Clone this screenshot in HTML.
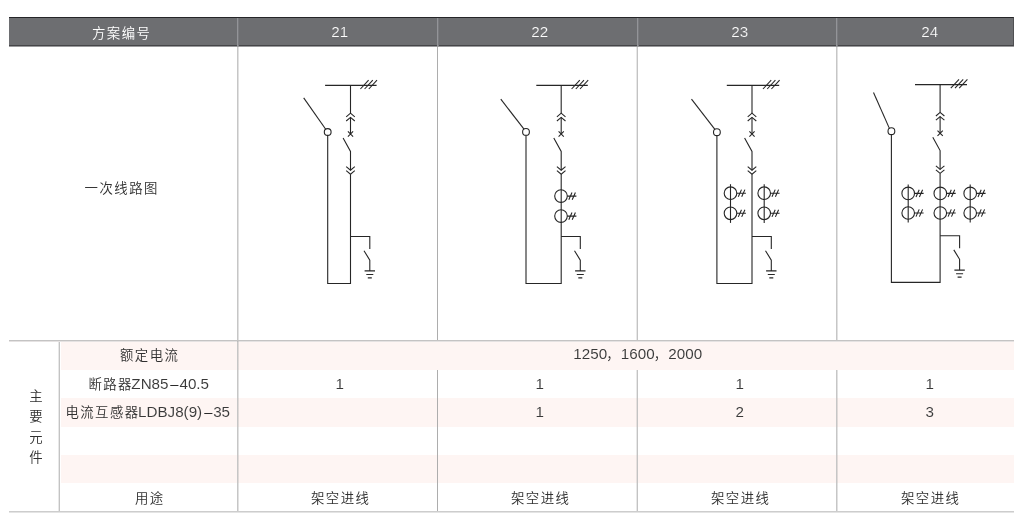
<!DOCTYPE html>
<html lang="zh-CN">
<head>
<meta charset="utf-8">
<title>一次线路图 方案 21-24</title>
<style>
html,body{margin:0;padding:0;background:#fff;}
body{width:1025px;height:531px;position:relative;overflow:hidden;
  font-family:"Liberation Sans","Noto Sans CJK SC",sans-serif;font-weight:350;color:#303030;font-size:13.4px;}
.abs{position:absolute;}
.hdr{left:9px;top:17px;width:1005px;height:29px;background:#6d6e71;box-sizing:border-box;border-top:1px solid #252528;border-bottom:1px solid #454548;border-right:1px solid #505053;}
.hsep{top:18px;height:28px;width:2px;background:linear-gradient(to right,#939498 50%,#797a7e 50%);}
.vl{width:2px;}
.va{background:linear-gradient(to right,#c6c6c6 50%,rgba(140,140,140,.26) 50%);}
.vb{background:linear-gradient(to right,rgba(140,140,140,.2) 50%,#c3c3c3 50%);}
.vc{width:1px;background:#adadad;}
.hl{height:2px;background:linear-gradient(to bottom,#c4c3c3 50%,rgba(170,160,160,.3) 50%);}
.hl.b{background:linear-gradient(to bottom,#cdcdcd 50%,#e4e4e4 50%);}
.pink{left:61px;width:953px;background:#fef5f3;}
.t{position:absolute;white-space:nowrap;text-align:center;line-height:20px;height:20px;will-change:transform;}
.t.v{white-space:normal;word-break:break-all;height:auto;line-height:20.4px;letter-spacing:0;}
.t .i{display:inline-block;letter-spacing:1.45px;margin-right:-1.45px;}
.t .l{font-size:15.2px;letter-spacing:0;font-weight:400;-webkit-text-stroke:0.06px #fff;color:#383838;}
.t .l.a{margin-left:-1.6px;}
.t .d{display:inline-block;font-size:15.2px;letter-spacing:0;font-weight:400;margin:0 1px 0 1.5px;transform:scaleX(0.97);color:#2a2a2a;}
.p .l{-webkit-text-stroke-color:#fef5f3;}
.h .l{-webkit-text-stroke:0.22px #6d6e71;}
.t .c{letter-spacing:0;margin:0 1.1px 0 -0.8px;}
.h,.h .l{color:#fff;}
svg{position:absolute;left:0;top:0;}
svg path,svg circle{fill:none;stroke:#262626;stroke-width:1.1;}
</style>
</head>
<body>
<div class="abs hdr"></div>
<div class="abs" style="left:9px;top:46px;width:1005px;height:1px;background:#9a9a9c"></div>
<div class="abs hsep" style="left:237px"></div>
<div class="abs hsep" style="left:437px"></div>
<div class="abs hsep" style="left:637px"></div>
<div class="abs hsep" style="left:836px"></div>

<div class="abs pink" style="top:342px;height:28px"></div>
<div class="abs pink" style="top:398px;height:29px"></div>
<div class="abs pink" style="top:455px;height:28px"></div>

<div class="abs vl va" style="left:237px;top:47px;height:464px"></div>
<div class="abs vl vc" style="left:437px;top:47px;height:293px"></div>
<div class="abs vl vb" style="left:636px;top:47px;height:293px"></div>
<div class="abs vl va" style="left:836px;top:47px;height:293px"></div>
<div class="abs vl vc" style="left:437px;top:370px;height:141px"></div>
<div class="abs vl vb" style="left:636px;top:370px;height:141px"></div>
<div class="abs vl va" style="left:836px;top:370px;height:141px"></div>
<div class="abs vl vb" style="left:58px;top:342px;height:169px"></div>
<div class="abs hl" style="left:9px;top:340px;width:1005px"></div>
<div class="abs hl b" style="left:9px;top:511px;width:1005px"></div>

<div class="t h" style="left:31.3px;top:24px;width:180px"><span class="i">方案编号</span></div>
<div class="t h" style="left:249.0px;top:22px;width:180px"><span class="i"><span class="l">21</span></span></div>
<div class="t h" style="left:448.7px;top:22px;width:180px"><span class="i"><span class="l">22</span></span></div>
<div class="t h" style="left:648.7px;top:22px;width:180px"><span class="i"><span class="l">23</span></span></div>
<div class="t h" style="left:838.7px;top:22px;width:180px"><span class="i"><span class="l">24</span></span></div>
<div class="t " style="left:31.0px;top:179px;width:180px"><span class="i">一次线路图</span></div>
<div class="t " style="left:58.6px;top:346px;width:180px"><span class="i">额定电流</span></div>
<div class="t " style="left:57.7px;top:374px;width:180px"><span class="i">断路器<span class="l a">ZN85</span><span class="d">–</span><span class="l">40.5</span></span></div>
<div class="t p" style="left:57.3px;top:402px;width:180px"><span class="i">电流互感器<span class="l a">LDBJ8(9)</span><span class="d">–</span><span class="l">35</span></span></div>
<div class="t " style="left:58.6px;top:489px;width:180px"><span class="i">用途</span></div>
<div class="t p" style="left:547.0px;top:344px;width:180px"><span class="i"><span class="l">1250</span><span class="c">，</span><span class="l">1600</span><span class="c">，</span><span class="l">2000</span></span></div>
<div class="t " style="left:249.0px;top:374px;width:180px"><span class="i"><span class="l">1</span></span></div>
<div class="t " style="left:449.0px;top:374px;width:180px"><span class="i"><span class="l">1</span></span></div>
<div class="t " style="left:649.0px;top:374px;width:180px"><span class="i"><span class="l">1</span></span></div>
<div class="t " style="left:839.0px;top:374px;width:180px"><span class="i"><span class="l">1</span></span></div>
<div class="t p" style="left:449.0px;top:402px;width:180px"><span class="i"><span class="l">1</span></span></div>
<div class="t p" style="left:649.0px;top:402px;width:180px"><span class="i"><span class="l">2</span></span></div>
<div class="t p" style="left:839.0px;top:402px;width:180px"><span class="i"><span class="l">3</span></span></div>
<div class="t " style="left:250.0px;top:489px;width:180px"><span class="i">架空进线</span></div>
<div class="t " style="left:450.0px;top:489px;width:180px"><span class="i">架空进线</span></div>
<div class="t " style="left:650.0px;top:489px;width:180px"><span class="i">架空进线</span></div>
<div class="t " style="left:840.0px;top:489px;width:180px"><span class="i">架空进线</span></div>
<div class="t v" style="left:28.3px;top:387px;width:16px">主要元件</div>

<svg width="1025" height="531" viewBox="0 0 1025 531">
<g>
<path d="M325.1 85.4H376.6"/>
<path d="M360.4 89.0L368.6 80.2"/>
<path d="M364.6 89.0L372.8 80.2"/>
<path d="M368.8 89.0L377.0 80.2"/>
<path d="M350.5 85.4V113.2"/>
<path d="M346.2 116.8L350.5 113.2L354.8 116.8"/>
<path d="M346.2 121.0L350.5 117.4L354.8 121.0"/>
<path d="M350.5 117.4V134.0"/>
<path d="M347.9 131.4L353.1 136.6M353.1 131.4L347.9 136.6"/>
<path d="M343.1 138.0L350.5 151.4V170.2"/>
<path d="M346.2 166.6L350.5 170.2L354.8 166.6"/>
<path d="M346.2 170.6L350.5 174.2L354.8 170.6"/>
<path d="M350.5 174.2V283.5H327.7V135.4"/>
<circle cx="327.7" cy="132.0" r="3.4"/>
<path d="M303.7 97.9L325.7 129.2"/>
<path d="M350.5 236.5H369.8V249.0M364.0 250.7L369.8 260.1V270.9"/>
<path d="M364.6 270.9H375.0M366.3 274.5H373.3M367.8 277.9H371.8"/>
</g>
<g>
<path d="M536.3 85.4H587.8"/>
<path d="M571.6 89.0L579.8 80.2"/>
<path d="M575.8 89.0L584.0 80.2"/>
<path d="M580.0 89.0L588.2 80.2"/>
<path d="M561.2 85.4V113.2"/>
<path d="M556.9 116.8L561.2 113.2L565.5 116.8"/>
<path d="M556.9 121.0L561.2 117.4L565.5 121.0"/>
<path d="M561.2 117.4V134.0"/>
<path d="M558.6 131.4L563.8 136.6M563.8 131.4L558.6 136.6"/>
<path d="M553.8 138.0L561.2 151.4V170.2"/>
<path d="M556.9 166.6L561.2 170.2L565.5 166.6"/>
<path d="M556.9 170.6L561.2 174.2L565.5 170.6"/>
<path d="M561.2 174.2V283.5H526.0V135.3"/>
<circle cx="526.0" cy="131.9" r="3.4"/>
<path d="M500.8 99.2L524.0 129.1"/>
<path d="M561.2 236.5H580.3V249.0M574.5 250.7L580.3 260.1V270.9"/>
<path d="M575.1 270.9H585.5M576.8 274.5H583.8M578.3 277.9H582.3"/>
<circle cx="561.0" cy="196.1" r="6.3"/>
<path d="M567.3 196.1H576.4M568.8 199.7L572.0 192.5M572.2 199.7L575.4 192.5"/>
<circle cx="561.0" cy="216.1" r="6.3"/>
<path d="M567.3 216.1H576.4M568.8 219.7L572.0 212.5M572.2 219.7L575.4 212.5"/>
</g>
<g>
<path d="M726.8 85.4H779.2"/>
<path d="M763.0 89.0L771.2 80.2"/>
<path d="M767.2 89.0L775.4 80.2"/>
<path d="M771.4 89.0L779.6 80.2"/>
<path d="M752.0 85.4V113.2"/>
<path d="M747.7 116.8L752.0 113.2L756.3 116.8"/>
<path d="M747.7 121.0L752.0 117.4L756.3 121.0"/>
<path d="M752.0 117.4V134.0"/>
<path d="M749.4 131.4L754.6 136.6M754.6 131.4L749.4 136.6"/>
<path d="M744.6 138.0L752.0 151.4V170.2"/>
<path d="M747.7 166.6L752.0 170.2L756.3 166.6"/>
<path d="M747.7 170.6L752.0 174.2L756.3 170.6"/>
<path d="M752.0 174.2V283.5H716.9V135.6"/>
<circle cx="716.9" cy="132.2" r="3.4"/>
<path d="M691.5 99.2L714.9 129.4"/>
<path d="M752.0 236.5H771.3V249.0M765.5 250.7L771.3 260.1V270.9"/>
<path d="M766.1 270.9H776.5M767.8 274.5H774.8M769.3 277.9H773.3"/>
<circle cx="730.5" cy="193.2" r="6.3"/>
<path d="M736.8 193.2H745.9M738.3 196.8L741.5 189.6M741.7 196.8L744.9 189.6"/>
<circle cx="730.5" cy="213.3" r="6.3"/>
<path d="M736.8 213.3H745.9M738.3 216.9L741.5 209.7M741.7 216.9L744.9 209.7"/>
<path d="M730.5 184.2V222.9"/>
<circle cx="764.2" cy="193.2" r="6.3"/>
<path d="M770.5 193.2H779.6M772.0 196.8L775.2 189.6M775.4 196.8L778.6 189.6"/>
<circle cx="764.2" cy="213.3" r="6.3"/>
<path d="M770.5 213.3H779.6M772.0 216.9L775.2 209.7M775.4 216.9L778.6 209.7"/>
<path d="M764.2 184.2V222.9"/>
</g>
<g>
<path d="M915.0 84.6H967.0"/>
<path d="M950.8 88.2L959.0 79.4"/>
<path d="M955.0 88.2L963.2 79.4"/>
<path d="M959.2 88.2L967.4 79.4"/>
<path d="M940.1 84.6V112.4"/>
<path d="M935.9 116.0L940.1 112.4L944.4 116.0"/>
<path d="M935.9 120.2L940.1 116.6L944.4 120.2"/>
<path d="M940.1 116.6V133.2"/>
<path d="M937.5 130.6L942.8 135.8M942.8 130.6L937.5 135.8"/>
<path d="M932.8 137.2L940.1 150.6V169.4"/>
<path d="M935.9 165.8L940.1 169.4L944.4 165.8"/>
<path d="M935.9 169.8L940.1 173.4L944.4 169.8"/>
<path d="M940.1 173.4V282.4H891.4V134.6"/>
<circle cx="891.4" cy="131.2" r="3.4"/>
<path d="M873.5 92.5L889.4 128.4"/>
<path d="M940.1 235.7H959.6V248.2M953.8 249.9L959.6 259.3V270.1"/>
<path d="M954.4 270.1H964.8M956.1 273.7H963.1M957.6 277.1H961.6"/>
<circle cx="908.2" cy="193.4" r="6.3"/>
<path d="M914.5 193.4H923.6M916.0 197.0L919.2 189.8M919.4 197.0L922.6 189.8"/>
<circle cx="908.2" cy="213.0" r="6.3"/>
<path d="M914.5 213.0H923.6M916.0 216.6L919.2 209.4M919.4 216.6L922.6 209.4"/>
<path d="M908.2 184.4V222.6"/>
<circle cx="940.3" cy="193.4" r="6.3"/>
<path d="M946.6 193.4H955.7M948.1 197.0L951.3 189.8M951.5 197.0L954.7 189.8"/>
<circle cx="940.3" cy="213.0" r="6.3"/>
<path d="M946.6 213.0H955.7M948.1 216.6L951.3 209.4M951.5 216.6L954.7 209.4"/>
<circle cx="970.2" cy="193.4" r="6.3"/>
<path d="M976.5 193.4H985.6M978.0 197.0L981.2 189.8M981.4 197.0L984.6 189.8"/>
<circle cx="970.2" cy="213.0" r="6.3"/>
<path d="M976.5 213.0H985.6M978.0 216.6L981.2 209.4M981.4 216.6L984.6 209.4"/>
<path d="M970.2 184.4V222.6"/>
</g>
</svg>
</body>
</html>
